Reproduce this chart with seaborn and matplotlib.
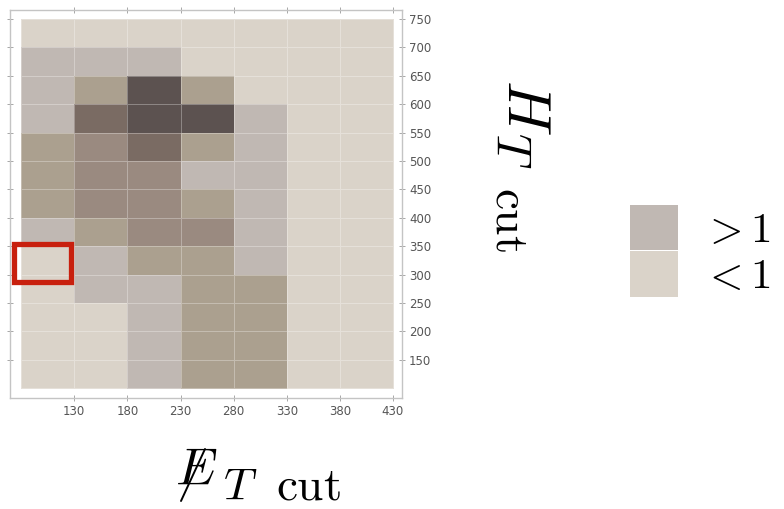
import numpy as np
import pandas as pd
import matplotlib
matplotlib.use("Agg")
import matplotlib.pyplot as plt
from matplotlib.colors import ListedColormap
from matplotlib.patches import Rectangle, Patch
from matplotlib.lines import Line2D
import seaborn as sns

# ---- data ----
met_edges = [80, 130, 180, 230, 280, 330, 380, 430]          # MET cut bin edges
ht_edges_top_down = [750, 700, 650, 600, 550, 500, 450, 400, 350, 300, 250, 200, 150, 100]
# significance level class per cell (rows top->bottom: HT 700-750 ... 100-150; cols MET 80-130 ... 380-430)
significance_level = [
    [0, 0, 0, 0, 0, 0, 0],
    [1, 1, 1, 0, 0, 0, 0],
    [1, 2, 5, 2, 0, 0, 0],
    [1, 4, 5, 5, 1, 0, 0],
    [2, 3, 4, 2, 1, 0, 0],
    [2, 3, 3, 1, 1, 0, 0],
    [2, 3, 3, 2, 1, 0, 0],
    [1, 2, 3, 3, 1, 0, 0],
    [0, 1, 2, 2, 1, 0, 0],
    [0, 1, 1, 2, 2, 0, 0],
    [0, 0, 1, 2, 2, 0, 0],
    [0, 0, 1, 2, 2, 0, 0],
    [0, 0, 1, 2, 2, 0, 0],
]
level_colors = ["#DAD3C9", "#C0B8B3", "#ABA08F", "#9A8A80", "#7A6B63", "#5C5250"]
legend_labels = [r"$>1$", r"$<1$"]
highlight_cell = (80, 300)   # (MET lower edge, HT lower edge)

# ---- figure ----
sns.set_theme(style="white")
plt.rcParams["mathtext.fontset"] = "cm"
W, H = 784, 509
fig = plt.figure(figsize=(W / 100, H / 100), dpi=100)
ax = fig.add_axes([10 / W, 1 - 398 / H, 392 / W, 388 / H])

def fx(px):
    return px / W

def fy(py):
    return 1 - py / H

ht_lower = ht_edges_top_down[1:]
df = pd.DataFrame(significance_level, index=ht_lower, columns=met_edges[:-1])
cmap = ListedColormap(level_colors)
sns.heatmap(df, ax=ax, cmap=cmap, vmin=-0.5, vmax=len(level_colors) - 0.5,
            cbar=False, linewidths=0.6, linecolor=(1, 1, 1, 0.3),
            xticklabels=False, yticklabels=False, square=False)

ncol = len(met_edges) - 1
nrow = len(ht_edges_top_down) - 1
ax.set_xlim(-0.21, ncol + 0.17)
ax.set_ylim(nrow + 0.35, -0.32)

ax.set_xticks(np.arange(1, ncol + 1))
ax.set_xticklabels([str(v) for v in met_edges[1:]])
ax.set_yticks(np.arange(0, nrow))
ax.set_yticklabels([str(v) for v in ht_edges_top_down[:-1]])
ax.tick_params(axis="both", which="both", direction="inout", length=4, width=0.6,
               color="#999999", labelsize=8.5, labelcolor="#555555",
               top=True, bottom=True, left=True, right=True,
               labelleft=False, labelright=True, labelbottom=True, labeltop=False, pad=3)
ax.set_xlabel("")
ax.set_ylabel("")
for s in ax.spines.values():
    s.set_visible(True)
    s.set_color("#c4c4c4")
    s.set_linewidth(1.0)

# highlight box
hx = met_edges.index(highlight_cell[0])
hy = ht_lower.index(highlight_cell[1])
ax.add_patch(Rectangle((hx - 0.14, hy - 0.06), 1.08, 1.32, fill=False,
                       edgecolor="#C8200E", linewidth=3.8, clip_on=False, zorder=5))

# x axis label: slashed E_T cut
fig.text(fx(175), fy(485), r"$E$", fontsize=38, ha="left", va="baseline", color="black")
fig.add_artist(Line2D([fx(181), fx(205)], [fy(501), fy(449)], color="black", linewidth=1.4))
fig.text(fx(223), fy(500), r"$T$", fontsize=33, ha="left", va="baseline", color="black")
fig.text(fx(276), fy(500), r"$\mathrm{cut}$", fontsize=34, ha="left", va="baseline", color="black")

# y axis label: H_T cut (rotated, reading downward)
fig.text(fx(508), fy(79), r"$H$", fontsize=44, rotation=-90, rotation_mode="anchor",
         ha="left", va="baseline", color="black")
fig.text(fx(497), fy(132), r"$T$", fontsize=35, rotation=-90, rotation_mode="anchor",
         ha="left", va="baseline", color="black")
fig.text(fx(497), fy(187), r"$\mathrm{cut}$", fontsize=34, rotation=-90, rotation_mode="anchor",
         ha="left", va="baseline", color="black")

# legend
handles = [Patch(facecolor=level_colors[1], edgecolor="none"),
           Patch(facecolor=level_colors[0], edgecolor="none")]
fig.legend(handles, legend_labels, loc="center left", bbox_to_anchor=(fx(617), fy(251)),
           frameon=False, fontsize=31, handlelength=1.12, handleheight=1.25,
           labelspacing=0.0, handletextpad=0.55, borderaxespad=0, borderpad=0.3,
           labelcolor="black")

fig.savefig("out.png", dpi=100)
